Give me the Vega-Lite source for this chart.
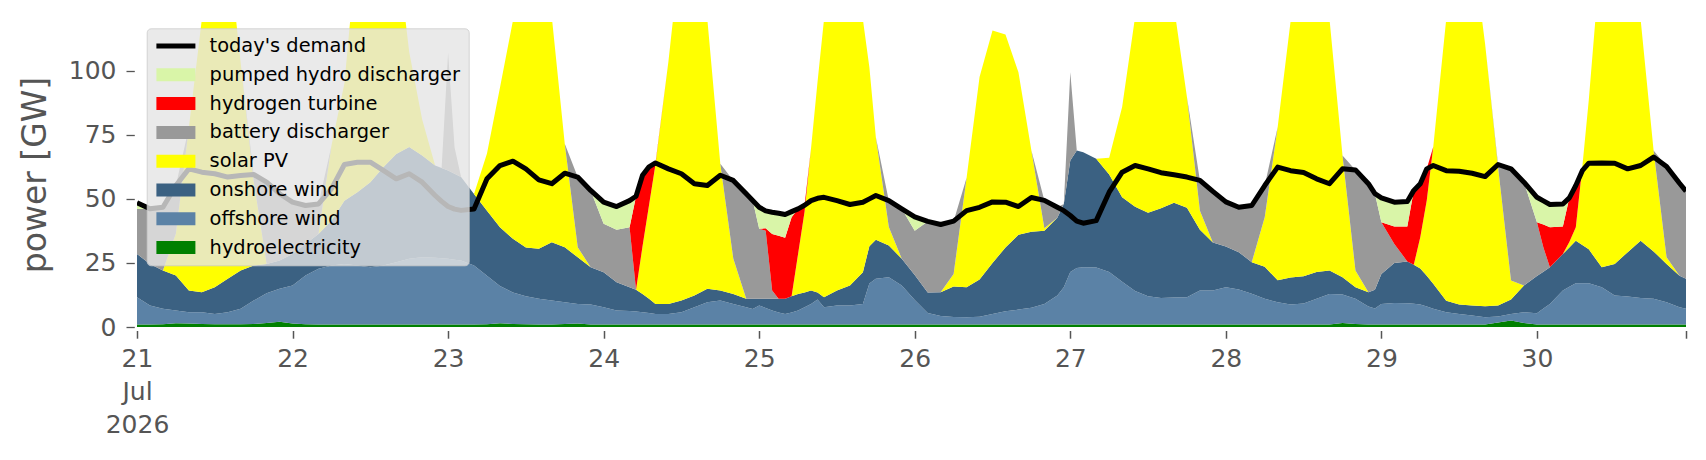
{
"$schema":"https://vega.github.io/schema/vega-lite/v6.json",
"width":1549,"height":305,
"autosize":{"type":"none"},
"padding":{"left":137,"top":22,"right":20,"bottom":133},
"background":"white",
"config":{"font":"DejaVu Sans","view":{"stroke":null}},
"data":{"values":[
{"t":"2026-07-21T00:00","hydro":1.0,"offshore":10.6,"onshore":16.9,"solar":0,"battery":17.5,"hydrogen":0,"pumped":2.5,"demand":48.5},
{"t":"2026-07-21T02:00","hydro":1.0,"offshore":7.4,"onshore":16.2,"solar":0,"battery":21.5,"hydrogen":0,"pumped":0,"demand":46.1},
{"t":"2026-07-21T04:00","hydro":1.1,"offshore":6.0,"onshore":14.9,"solar":0,"battery":24.7,"hydrogen":0,"pumped":0,"demand":46.7},
{"t":"2026-07-21T06:00","hydro":1.5,"offshore":4.9,"onshore":13.7,"solar":16.4,"battery":18.7,"hydrogen":0,"pumped":0,"demand":55.2},
{"t":"2026-07-21T08:00","hydro":1.4,"offshore":4.4,"onshore":8.4,"solar":63.5,"battery":0,"hydrogen":0,"pumped":0,"demand":61.7},
{"t":"2026-07-21T10:00","hydro":1.2,"offshore":4.6,"onshore":7.8,"solar":106.4,"battery":0,"hydrogen":0,"pumped":0,"demand":60.4},
{"t":"2026-07-21T12:00","hydro":1.1,"offshore":4.0,"onshore":10.4,"solar":134.5,"battery":0,"hydrogen":0,"pumped":0,"demand":59.8},
{"t":"2026-07-21T14:00","hydro":1.1,"offshore":4.7,"onshore":13.0,"solar":131.2,"battery":0,"hydrogen":0,"pumped":0,"demand":58.5},
{"t":"2026-07-21T16:00","hydro":1.1,"offshore":6.0,"onshore":14.9,"solar":81.0,"battery":0,"hydrogen":0,"pumped":0,"demand":59.1},
{"t":"2026-07-21T18:00","hydro":1.2,"offshore":9.1,"onshore":13.7,"solar":33.0,"battery":2.5,"hydrogen":0,"pumped":0,"demand":59.5},
{"t":"2026-07-21T20:00","hydro":1.6,"offshore":11.6,"onshore":11.4,"solar":0,"battery":31.9,"hydrogen":0,"pumped":0,"demand":56.5},
{"t":"2026-07-21T22:00","hydro":2.0,"offshore":12.9,"onshore":11.0,"solar":0,"battery":26.1,"hydrogen":0,"pumped":0,"demand":52.0},
{"t":"2026-07-22T00:00","hydro":1.4,"offshore":14.8,"onshore":12.3,"solar":0,"battery":20.2,"hydrogen":0,"pumped":0,"demand":48.7},
{"t":"2026-07-22T02:00","hydro":1.1,"offshore":19.0,"onshore":12.3,"solar":0,"battery":15.0,"hydrogen":0,"pumped":0,"demand":47.4},
{"t":"2026-07-22T04:00","hydro":1.0,"offshore":21.7,"onshore":13.6,"solar":0,"battery":11.7,"hydrogen":0,"pumped":0,"demand":48.0},
{"t":"2026-07-22T06:00","hydro":1.0,"offshore":23.0,"onshore":17.5,"solar":29.2,"battery":0,"hydrogen":0,"pumped":0,"demand":53.9},
{"t":"2026-07-22T08:00","hydro":1.0,"offshore":23.6,"onshore":24.7,"solar":45.7,"battery":0,"hydrogen":0,"pumped":0,"demand":63.4},
{"t":"2026-07-22T10:00","hydro":1.0,"offshore":23.0,"onshore":28.6,"solar":97.4,"battery":0,"hydrogen":0,"pumped":0,"demand":64.3},
{"t":"2026-07-22T12:00","hydro":1.0,"offshore":22.3,"onshore":33.2,"solar":93.5,"battery":0,"hydrogen":0,"pumped":0,"demand":64.3},
{"t":"2026-07-22T14:00","hydro":1.0,"offshore":23.0,"onshore":38.3,"solar":87.7,"battery":0,"hydrogen":0,"pumped":0,"demand":61.1},
{"t":"2026-07-22T16:00","hydro":1.0,"offshore":24.3,"onshore":42.2,"solar":82.5,"battery":0,"hydrogen":0,"pumped":0,"demand":57.8},
{"t":"2026-07-22T18:00","hydro":1.0,"offshore":25.6,"onshore":43.6,"solar":37.1,"battery":0,"hydrogen":0,"pumped":0,"demand":59.8},
{"t":"2026-07-22T20:00","hydro":1.0,"offshore":26.2,"onshore":39.7,"solar":14.1,"battery":0,"hydrogen":0,"pumped":0,"demand":56.5},
{"t":"2026-07-22T22:00","hydro":1.0,"offshore":26.0,"onshore":36.0,"solar":0,"battery":0,"hydrogen":0,"pumped":0,"demand":51.3},
{"t":"2026-07-22T23:00","hydro":1.0,"offshore":25.8,"onshore":35.2,"solar":0,"battery":0,"hydrogen":0,"pumped":0,"demand":49.0},
{"t":"2026-07-23T00:00","hydro":1.0,"offshore":25.6,"onshore":34.5,"solar":0,"battery":45.9,"hydrogen":0,"pumped":0,"demand":47.0},
{"t":"2026-07-23T01:00","hydro":1.0,"offshore":25.2,"onshore":33.6,"solar":0,"battery":10.2,"hydrogen":0,"pumped":0,"demand":46.0},
{"t":"2026-07-23T02:00","hydro":1.0,"offshore":24.9,"onshore":32.6,"solar":0,"battery":0,"hydrogen":0,"pumped":0,"demand":45.5},
{"t":"2026-07-23T04:00","hydro":1.0,"offshore":23.0,"onshore":27.9,"solar":0,"battery":0,"hydrogen":0,"pumped":0,"demand":46.0},
{"t":"2026-07-23T06:00","hydro":1.1,"offshore":18.9,"onshore":25.4,"solar":22.3,"battery":0,"hydrogen":0,"pumped":0,"demand":57.8},
{"t":"2026-07-23T08:00","hydro":1.5,"offshore":14.5,"onshore":22.9,"solar":54.4,"battery":0,"hydrogen":0,"pumped":0,"demand":63.0},
{"t":"2026-07-23T10:00","hydro":1.2,"offshore":12.3,"onshore":20.9,"solar":85.1,"battery":0,"hydrogen":0,"pumped":0,"demand":64.7},
{"t":"2026-07-23T12:00","hydro":1.1,"offshore":10.9,"onshore":19.0,"solar":119.0,"battery":0,"hydrogen":0,"pumped":0,"demand":61.7},
{"t":"2026-07-23T14:00","hydro":1.0,"offshore":10.0,"onshore":19.5,"solar":119.5,"battery":0,"hydrogen":0,"pumped":0,"demand":57.4},
{"t":"2026-07-23T16:00","hydro":1.0,"offshore":9.3,"onshore":22.8,"solar":87.9,"battery":0,"hydrogen":0,"pumped":0,"demand":55.9},
{"t":"2026-07-23T18:00","hydro":1.2,"offshore":8.5,"onshore":21.4,"solar":40.4,"battery":0,"hydrogen":0,"pumped":0,"demand":60.0},
{"t":"2026-07-23T20:00","hydro":1.4,"offshore":7.6,"onshore":18.2,"solar":3.9,"battery":27.4,"hydrogen":0,"pumped":0,"demand":58.5},
{"t":"2026-07-23T22:00","hydro":1.0,"offshore":7.8,"onshore":14.5,"solar":0,"battery":30.0,"hydrogen":0,"pumped":0,"demand":53.3},
{"t":"2026-07-24T00:00","hydro":1.0,"offshore":6.7,"onshore":13.7,"solar":0,"battery":18.9,"hydrogen":0,"pumped":8.4,"demand":48.7},
{"t":"2026-07-24T02:00","hydro":1.0,"offshore":5.4,"onshore":11.1,"solar":0,"battery":20.4,"hydrogen":0,"pumped":9.1,"demand":47.0},
{"t":"2026-07-24T04:00","hydro":1.0,"offshore":5.2,"onshore":9.3,"solar":0,"battery":23.4,"hydrogen":0,"pumped":10.4,"demand":49.3},
{"t":"2026-07-24T05:00","hydro":1.0,"offshore":5.0,"onshore":8.5,"solar":0,"battery":0,"hydrogen":36.5,"pumped":0,"demand":51.0},
{"t":"2026-07-24T06:00","hydro":1.0,"offshore":4.8,"onshore":7.1,"solar":18.6,"battery":0,"hydrogen":27.7,"pumped":0,"demand":59.2},
{"t":"2026-07-24T07:00","hydro":1.0,"offshore":4.5,"onshore":5.5,"solar":36.5,"battery":0,"hydrogen":15.0,"pumped":0,"demand":62.5},
{"t":"2026-07-24T08:00","hydro":1.0,"offshore":4.1,"onshore":3.9,"solar":54.5,"battery":0,"hydrogen":0.5,"pumped":0,"demand":64.0},
{"t":"2026-07-24T10:00","hydro":1.0,"offshore":4.1,"onshore":3.9,"solar":94.7,"battery":0,"hydrogen":0,"pumped":0,"demand":61.7},
{"t":"2026-07-24T12:00","hydro":1.0,"offshore":4.8,"onshore":4.5,"solar":139.7,"battery":0,"hydrogen":0,"pumped":0,"demand":59.8},
{"t":"2026-07-24T14:00","hydro":1.0,"offshore":6.7,"onshore":4.6,"solar":137.7,"battery":0,"hydrogen":0,"pumped":0,"demand":55.9},
{"t":"2026-07-24T16:00","hydro":1.0,"offshore":8.7,"onshore":5.2,"solar":105.1,"battery":0,"hydrogen":0,"pumped":0,"demand":55.2},
{"t":"2026-07-24T18:00","hydro":1.0,"offshore":9.3,"onshore":3.9,"solar":49.5,"battery":0,"hydrogen":0,"pumped":0,"demand":59.2},
{"t":"2026-07-24T20:00","hydro":1.0,"offshore":8.0,"onshore":3.9,"solar":13.8,"battery":30.5,"hydrogen":0,"pumped":0,"demand":57.2},
{"t":"2026-07-24T22:00","hydro":1.0,"offshore":6.7,"onshore":3.3,"solar":0,"battery":41.0,"hydrogen":0,"pumped":0,"demand":52.0},
{"t":"2026-07-24T23:00","hydro":1.0,"offshore":6.0,"onshore":4.0,"solar":0,"battery":38.4,"hydrogen":0,"pumped":0,"demand":49.4},
{"t":"2026-07-25T00:00","hydro":1.0,"offshore":7.4,"onshore":2.6,"solar":0,"battery":27.3,"hydrogen":0,"pumped":8.4,"demand":46.7},
{"t":"2026-07-25T01:00","hydro":1.0,"offshore":6.4,"onshore":3.6,"solar":0,"battery":26.6,"hydrogen":0.9,"pumped":6.8,"demand":45.3},
{"t":"2026-07-25T02:00","hydro":1.0,"offshore":5.4,"onshore":4.6,"solar":0,"battery":3.2,"hydrogen":22.1,"pumped":8.5,"demand":44.8},
{"t":"2026-07-25T03:00","hydro":1.0,"offshore":4.7,"onshore":5.3,"solar":0,"battery":0,"hydrogen":24.6,"pumped":8.8,"demand":44.4},
{"t":"2026-07-25T04:00","hydro":1.0,"offshore":4.1,"onshore":5.9,"solar":0,"battery":0,"hydrogen":23.8,"pumped":9.1,"demand":43.9},
{"t":"2026-07-25T05:00","hydro":1.0,"offshore":4.7,"onshore":6.3,"solar":0,"battery":0,"hydrogen":30.8,"pumped":2.2,"demand":45.0},
{"t":"2026-07-25T06:00","hydro":1.0,"offshore":5.4,"onshore":6.5,"solar":15.6,"battery":0,"hydrogen":17.6,"pumped":0,"demand":46.1},
{"t":"2026-07-25T07:00","hydro":1.0,"offshore":6.7,"onshore":5.8,"solar":31.5,"battery":0,"hydrogen":2.5,"pumped":0,"demand":47.5},
{"t":"2026-07-25T08:00","hydro":1.0,"offshore":8.0,"onshore":5.2,"solar":55.5,"battery":0,"hydrogen":0,"pumped":0,"demand":49.3},
{"t":"2026-07-25T09:00","hydro":1.0,"offshore":9.7,"onshore":2.8,"solar":82.1,"battery":0,"hydrogen":0,"pumped":0,"demand":50.2},
{"t":"2026-07-25T10:00","hydro":1.0,"offshore":6.7,"onshore":3.9,"solar":108.4,"battery":0,"hydrogen":0,"pumped":0,"demand":50.6},
{"t":"2026-07-25T12:00","hydro":1.0,"offshore":7.4,"onshore":5.8,"solar":135.8,"battery":0,"hydrogen":0,"pumped":0,"demand":49.3},
{"t":"2026-07-25T14:00","hydro":1.0,"offshore":7.4,"onshore":7.8,"solar":133.8,"battery":0,"hydrogen":0,"pumped":0,"demand":47.8},
{"t":"2026-07-25T16:00","hydro":1.0,"offshore":8.0,"onshore":12.4,"solar":98.6,"battery":0,"hydrogen":0,"pumped":0,"demand":48.7},
{"t":"2026-07-25T17:00","hydro":1.0,"offshore":16.0,"onshore":14.5,"solar":69.8,"battery":0,"hydrogen":0,"pumped":0,"demand":50.0},
{"t":"2026-07-25T18:00","hydro":1.0,"offshore":17.8,"onshore":15.2,"solar":40.0,"battery":0,"hydrogen":0,"pumped":0,"demand":51.3},
{"t":"2026-07-25T20:00","hydro":1.0,"offshore":18.4,"onshore":12.4,"solar":7.2,"battery":10.3,"hydrogen":0,"pumped":0,"demand":49.3},
{"t":"2026-07-25T22:00","hydro":1.0,"offshore":15.2,"onshore":10.4,"solar":0,"battery":19.5,"hydrogen":0,"pumped":0,"demand":46.1},
{"t":"2026-07-26T00:00","hydro":1.0,"offshore":9.5,"onshore":9.8,"solar":0,"battery":17.3,"hydrogen":0,"pumped":5.4,"demand":43.0},
{"t":"2026-07-26T02:00","hydro":1.0,"offshore":4.5,"onshore":8.0,"solar":0,"battery":27.7,"hydrogen":0,"pumped":0,"demand":41.2},
{"t":"2026-07-26T04:00","hydro":1.0,"offshore":3.3,"onshore":9.3,"solar":0,"battery":26.4,"hydrogen":0,"pumped":0,"demand":40.0},
{"t":"2026-07-26T06:00","hydro":1.0,"offshore":2.9,"onshore":11.9,"solar":4.9,"battery":20.6,"hydrogen":0,"pumped":0,"demand":41.3},
{"t":"2026-07-26T08:00","hydro":1.0,"offshore":2.8,"onshore":11.7,"solar":42.7,"battery":0,"hydrogen":0,"pumped":0,"demand":45.4},
{"t":"2026-07-26T10:00","hydro":1.0,"offshore":3.0,"onshore":14.5,"solar":79.0,"battery":0,"hydrogen":0,"pumped":0,"demand":46.7},
{"t":"2026-07-26T12:00","hydro":1.0,"offshore":4.1,"onshore":19.9,"solar":90.7,"battery":0,"hydrogen":0,"pumped":0,"demand":48.8},
{"t":"2026-07-26T14:00","hydro":1.0,"offshore":5.1,"onshore":24.9,"solar":83.1,"battery":0,"hydrogen":0,"pumped":0,"demand":48.7},
{"t":"2026-07-26T16:00","hydro":1.0,"offshore":5.8,"onshore":29.2,"solar":63.4,"battery":0,"hydrogen":0,"pumped":0,"demand":47.0},
{"t":"2026-07-26T18:00","hydro":1.0,"offshore":6.5,"onshore":29.7,"solar":31.7,"battery":0,"hydrogen":0,"pumped":0,"demand":50.5},
{"t":"2026-07-26T20:00","hydro":1.0,"offshore":8.0,"onshore":28.6,"solar":0.9,"battery":10.9,"hydrogen":0,"pumped":0,"demand":49.4},
{"t":"2026-07-26T22:00","hydro":1.0,"offshore":11.3,"onshore":30.3,"solar":0,"battery":4.1,"hydrogen":0,"pumped":0,"demand":46.7},
{"t":"2026-07-26T23:00","hydro":1.0,"offshore":14.5,"onshore":32.5,"solar":0,"battery":0,"hydrogen":0,"pumped":0,"demand":45.4},
{"t":"2026-07-27T00:00","hydro":1.0,"offshore":20.5,"onshore":43.5,"solar":0,"battery":34.4,"hydrogen":0,"pumped":0,"demand":43.5},
{"t":"2026-07-27T01:00","hydro":1.0,"offshore":22.0,"onshore":45.9,"solar":0,"battery":0,"hydrogen":0,"pumped":0,"demand":41.3},
{"t":"2026-07-27T02:00","hydro":1.0,"offshore":22.3,"onshore":44.9,"solar":0,"battery":0,"hydrogen":0,"pumped":0,"demand":40.5},
{"t":"2026-07-27T04:00","hydro":1.0,"offshore":22.2,"onshore":42.4,"solar":0,"battery":0,"hydrogen":0,"pumped":0,"demand":41.5},
{"t":"2026-07-27T06:00","hydro":1.0,"offshore":20.5,"onshore":38.0,"solar":6.5,"battery":0,"hydrogen":0,"pumped":0,"demand":52.6},
{"t":"2026-07-27T08:00","hydro":1.0,"offshore":16.7,"onshore":32.9,"solar":35.2,"battery":0,"hydrogen":0,"pumped":0,"demand":60.4},
{"t":"2026-07-27T10:00","hydro":1.0,"offshore":13.0,"onshore":32.9,"solar":74.1,"battery":0,"hydrogen":0,"pumped":0,"demand":63.0},
{"t":"2026-07-27T12:00","hydro":1.0,"offshore":11.0,"onshore":32.6,"solar":105.4,"battery":0,"hydrogen":0,"pumped":0,"demand":61.7},
{"t":"2026-07-27T14:00","hydro":1.0,"offshore":10.3,"onshore":35.0,"solar":103.7,"battery":0,"hydrogen":0,"pumped":0,"demand":60.2},
{"t":"2026-07-27T16:00","hydro":1.0,"offshore":10.5,"onshore":37.0,"solar":76.5,"battery":0,"hydrogen":0,"pumped":0,"demand":59.4},
{"t":"2026-07-27T18:00","hydro":1.0,"offshore":10.6,"onshore":34.9,"solar":43.2,"battery":0,"hydrogen":0,"pumped":0,"demand":58.5},
{"t":"2026-07-27T20:00","hydro":1.0,"offshore":13.2,"onshore":23.7,"solar":7.5,"battery":11.8,"hydrogen":0,"pumped":0,"demand":57.2},
{"t":"2026-07-27T22:00","hydro":1.0,"offshore":13.2,"onshore":18.8,"solar":0,"battery":19.9,"hydrogen":0,"pumped":0,"demand":52.9},
{"t":"2026-07-28T00:00","hydro":1.0,"offshore":14.5,"onshore":15.9,"solar":0,"battery":17.4,"hydrogen":0,"pumped":0,"demand":48.8},
{"t":"2026-07-28T02:00","hydro":1.0,"offshore":13.6,"onshore":14.6,"solar":0,"battery":17.5,"hydrogen":0,"pumped":0,"demand":46.7},
{"t":"2026-07-28T04:00","hydro":1.0,"offshore":12.0,"onshore":12.3,"solar":0,"battery":22.1,"hydrogen":0,"pumped":0,"demand":47.4},
{"t":"2026-07-28T06:00","hydro":1.0,"offshore":10.0,"onshore":12.5,"solar":19.3,"battery":12.4,"hydrogen":0,"pumped":0,"demand":55.2},
{"t":"2026-07-28T08:00","hydro":1.0,"offshore":8.7,"onshore":8.5,"solar":59.8,"battery":0,"hydrogen":0,"pumped":0,"demand":62.4},
{"t":"2026-07-28T10:00","hydro":1.0,"offshore":7.8,"onshore":10.5,"solar":100.2,"battery":0,"hydrogen":0,"pumped":0,"demand":61.0},
{"t":"2026-07-28T12:00","hydro":1.0,"offshore":8.2,"onshore":10.6,"solar":130.2,"battery":0,"hydrogen":0,"pumped":0,"demand":60.3},
{"t":"2026-07-28T14:00","hydro":1.0,"offshore":10.0,"onshore":10.5,"solar":128.5,"battery":0,"hydrogen":0,"pumped":0,"demand":57.8},
{"t":"2026-07-28T16:00","hydro":1.0,"offshore":11.9,"onshore":9.1,"solar":98.0,"battery":0,"hydrogen":0,"pumped":0,"demand":55.9},
{"t":"2026-07-28T18:00","hydro":1.6,"offshore":11.1,"onshore":6.7,"solar":47.5,"battery":0,"hydrogen":0,"pumped":0,"demand":61.7},
{"t":"2026-07-28T20:00","hydro":1.2,"offshore":9.8,"onshore":4.5,"solar":6.5,"battery":39.3,"hydrogen":0,"pumped":0,"demand":61.3},
{"t":"2026-07-28T22:00","hydro":1.0,"offshore":7.0,"onshore":5.6,"solar":0,"battery":42.3,"hydrogen":0,"pumped":0,"demand":55.9},
{"t":"2026-07-28T23:00","hydro":1.0,"offshore":6.2,"onshore":7.3,"solar":0,"battery":37.5,"hydrogen":0,"pumped":0,"demand":52.0},
{"t":"2026-07-29T00:00","hydro":1.0,"offshore":8.0,"onshore":11.7,"solar":0,"battery":20.2,"hydrogen":0,"pumped":9.5,"demand":50.4},
{"t":"2026-07-29T02:00","hydro":1.0,"offshore":8.4,"onshore":15.6,"solar":0,"battery":7.4,"hydrogen":6.8,"pumped":9.5,"demand":48.7},
{"t":"2026-07-29T04:00","hydro":1.0,"offshore":8.3,"onshore":16.3,"solar":0,"battery":0,"hydrogen":13.6,"pumped":9.8,"demand":49.0},
{"t":"2026-07-29T05:00","hydro":1.0,"offshore":8.1,"onshore":15.2,"solar":0,"battery":0,"hydrogen":29.0,"pumped":0,"demand":53.3},
{"t":"2026-07-29T06:00","hydro":1.0,"offshore":7.8,"onshore":14.0,"solar":12.2,"battery":0,"hydrogen":20.9,"pumped":0,"demand":55.9},
{"t":"2026-07-29T07:00","hydro":1.0,"offshore":7.0,"onshore":12.0,"solar":29.4,"battery":0,"hydrogen":12.3,"pumped":0,"demand":61.7},
{"t":"2026-07-29T08:00","hydro":1.0,"offshore":6.1,"onshore":9.8,"solar":53.3,"battery":0,"hydrogen":0,"pumped":0,"demand":63.0},
{"t":"2026-07-29T10:00","hydro":1.0,"offshore":4.8,"onshore":4.4,"solar":109.8,"battery":0,"hydrogen":0,"pumped":0,"demand":61.0},
{"t":"2026-07-29T12:00","hydro":1.0,"offshore":4.1,"onshore":3.7,"solar":141.2,"battery":0,"hydrogen":0,"pumped":0,"demand":60.8},
{"t":"2026-07-29T14:00","hydro":1.0,"offshore":3.5,"onshore":3.9,"solar":141.6,"battery":0,"hydrogen":0,"pumped":0,"demand":60.0},
{"t":"2026-07-29T16:00","hydro":1.0,"offshore":2.8,"onshore":4.3,"solar":102.4,"battery":0,"hydrogen":0,"pumped":0,"demand":58.7},
{"t":"2026-07-29T18:00","hydro":1.8,"offshore":2.3,"onshore":4.3,"solar":54.0,"battery":1.0,"hydrogen":0,"pumped":0,"demand":63.4},
{"t":"2026-07-29T20:00","hydro":2.5,"offshore":2.6,"onshore":5.6,"solar":7.4,"battery":43.6,"hydrogen":0,"pumped":0,"demand":61.7},
{"t":"2026-07-29T22:00","hydro":1.6,"offshore":4.2,"onshore":10.4,"solar":0,"battery":40.3,"hydrogen":0,"pumped":0,"demand":56.5},
{"t":"2026-07-30T00:00","hydro":1.0,"offshore":4.4,"onshore":14.5,"solar":0,"battery":21.0,"hydrogen":0,"pumped":9.7,"demand":50.6},
{"t":"2026-07-30T01:00","hydro":1.0,"offshore":6.2,"onshore":14.4,"solar":0,"battery":9.4,"hydrogen":9.0,"pumped":9.2,"demand":49.2},
{"t":"2026-07-30T02:00","hydro":1.0,"offshore":8.0,"onshore":14.3,"solar":0,"battery":0,"hydrogen":15.6,"pumped":8.9,"demand":47.8},
{"t":"2026-07-30T04:00","hydro":1.0,"offshore":13.2,"onshore":14.3,"solar":0,"battery":0,"hydrogen":10.7,"pumped":8.8,"demand":48.0},
{"t":"2026-07-30T05:00","hydro":1.0,"offshore":14.7,"onshore":15.3,"solar":2.2,"battery":0,"hydrogen":17.2,"pumped":0,"demand":50.4},
{"t":"2026-07-30T06:00","hydro":1.0,"offshore":16.1,"onshore":16.6,"solar":5.2,"battery":0,"hydrogen":16.3,"pumped":0,"demand":55.2},
{"t":"2026-07-30T07:00","hydro":1.0,"offshore":16.1,"onshore":14.9,"solar":30.4,"battery":0,"hydrogen":0,"pumped":0,"demand":61.0},
{"t":"2026-07-30T08:00","hydro":1.0,"offshore":16.1,"onshore":13.2,"solar":58.3,"battery":0,"hydrogen":0,"pumped":0,"demand":63.9},
{"t":"2026-07-30T10:00","hydro":1.0,"offshore":14.5,"onshore":7.8,"solar":126.7,"battery":0,"hydrogen":0,"pumped":0,"demand":64.0},
{"t":"2026-07-30T12:00","hydro":1.0,"offshore":11.3,"onshore":12.3,"solar":125.4,"battery":0,"hydrogen":0,"pumped":0,"demand":63.9},
{"t":"2026-07-30T14:00","hydro":1.0,"offshore":10.9,"onshore":17.3,"solar":120.8,"battery":0,"hydrogen":0,"pumped":0,"demand":61.7},
{"t":"2026-07-30T16:00","hydro":1.0,"offshore":10.3,"onshore":22.4,"solar":86.3,"battery":0,"hydrogen":0,"pumped":0,"demand":63.0},
{"t":"2026-07-30T18:00","hydro":1.0,"offshore":10.0,"onshore":18.5,"solar":39.4,"battery":0,"hydrogen":0,"pumped":0,"demand":66.3},
{"t":"2026-07-30T20:00","hydro":1.0,"offshore":8.7,"onshore":14.9,"solar":2.6,"battery":35.4,"hydrogen":0,"pumped":0,"demand":62.6},
{"t":"2026-07-30T22:00","hydro":1.0,"offshore":6.7,"onshore":12.3,"solar":0,"battery":36.1,"hydrogen":0,"pumped":0,"demand":56.1},
{"t":"2026-07-30T23:00","hydro":1.0,"offshore":6.1,"onshore":11.7,"solar":0,"battery":34.2,"hydrogen":0,"pumped":0,"demand":53.0}
]},
"encoding":{
 "x":{"field":"t","type":"temporal",
  "scale":{"domain":[{"year":2026,"month":7,"date":21,"hours":0},{"year":2026,"month":7,"date":30,"hours":23}],"nice":false},
  "axis":{"title":null,"domain":false,"grid":false,
   "values":[{"year":2026,"month":7,"date":21},{"year":2026,"month":7,"date":22},{"year":2026,"month":7,"date":23},{"year":2026,"month":7,"date":24},{"year":2026,"month":7,"date":25},{"year":2026,"month":7,"date":26},{"year":2026,"month":7,"date":27},{"year":2026,"month":7,"date":28},{"year":2026,"month":7,"date":29},{"year":2026,"month":7,"date":30},{"year":2026,"month":7,"date":30,"hours":23}],
   "labelExpr":"hours(datum.value) == 23 ? '' : (date(datum.value) == 21 ? ['21', 'Jul', '2026'] : timeFormat(datum.value, '%-d'))",
   "labelFontSize":25,"labelColor":"#555555","labelLineHeight":33,"labelPadding":8,
   "labelOverlap":false,"labelBound":false,"labelFlush":false,
   "tickColor":"#555555","tickSize":7.7,"tickWidth":1.5,"offset":3.5}}
},
"layer":[
 {"transform":[
   {"fold":["hydro","offshore","onshore","solar","battery","hydrogen","pumped"],"as":["series","gw"]},
   {"lookup":"series","from":{"data":{"values":[{"series":"hydro","ord":1},{"series":"offshore","ord":2},{"series":"onshore","ord":3},{"series":"solar","ord":4},{"series":"battery","ord":5},{"series":"hydrogen","ord":6},{"series":"pumped","ord":7}]},"key":"series","fields":["ord"]}}
  ],
  "mark":{"type":"area","clip":true},
  "encoding":{
   "y":{"field":"gw","type":"quantitative","stack":"zero",
    "scale":{"domain":[0,119],"nice":false},
    "axis":{"title":"power [GW]","titleFontSize":33,"titleColor":"#555555","titleFontWeight":"normal","titlePadding":16,
     "values":[0,25,50,75,100],"domain":false,"grid":false,
     "labelFontSize":25,"labelColor":"#555555","labelPadding":10,
     "tickColor":"#555555","tickSize":8.3,"tickWidth":1.3,"offset":2.7}},
   "color":{"field":"series","type":"nominal",
    "scale":{"domain":["demand","pumped","hydrogen","battery","solar","onshore","offshore","hydro"],
             "range":["#000000","#d9f5a8","#ff0000","#999999","#ffff00","#3b6182","#5b82a6","#008000"]},
    "legend":{"title":null,"orient":"none","legendX":9.7,"legendY":6.3,
     "labelFontSize":19.4,"labelColor":"#000000","labelFont":"DejaVu Sans","labelLimit":0,
     "symbolSize":169,"symbolStrokeWidth":0,"symbolOffset":11.5,"labelOffset":24,
     "rowPadding":7.8,"padding":8,
     "fillColor":"rgba(229,229,229,0.8)","strokeColor":"rgba(204,204,204,0.8)","cornerRadius":4,
     "labelExpr":"datum.value == 'demand' ? \"today's demand\" : datum.value == 'pumped' ? 'pumped hydro discharger' : datum.value == 'hydrogen' ? 'hydrogen turbine' : datum.value == 'battery' ? 'battery discharger' : datum.value == 'solar' ? 'solar PV' : datum.value == 'onshore' ? 'onshore wind' : datum.value == 'offshore' ? 'offshore wind' : 'hydroelectricity'",
     "encode":{"symbols":{"update":{
       "shape":{"signal":"datum.value == 'demand' ? 'M-3,-0.38H3V0.38H-3Z' : 'M-3,-1H3V1H-3Z'"},
       "fill":{"signal":"scale('color', datum.value)"},
       "stroke":{"value":"transparent"},
       "opacity":{"value":1}}}}}},
   "order":{"field":"ord","type":"quantitative","sort":"ascending"}
  }},
 {"mark":{"type":"line","clip":true,"strokeWidth":5,"strokeJoin":"round"},
  "encoding":{"y":{"field":"demand","type":"quantitative"},"color":{"datum":"demand"}}}
]
}
